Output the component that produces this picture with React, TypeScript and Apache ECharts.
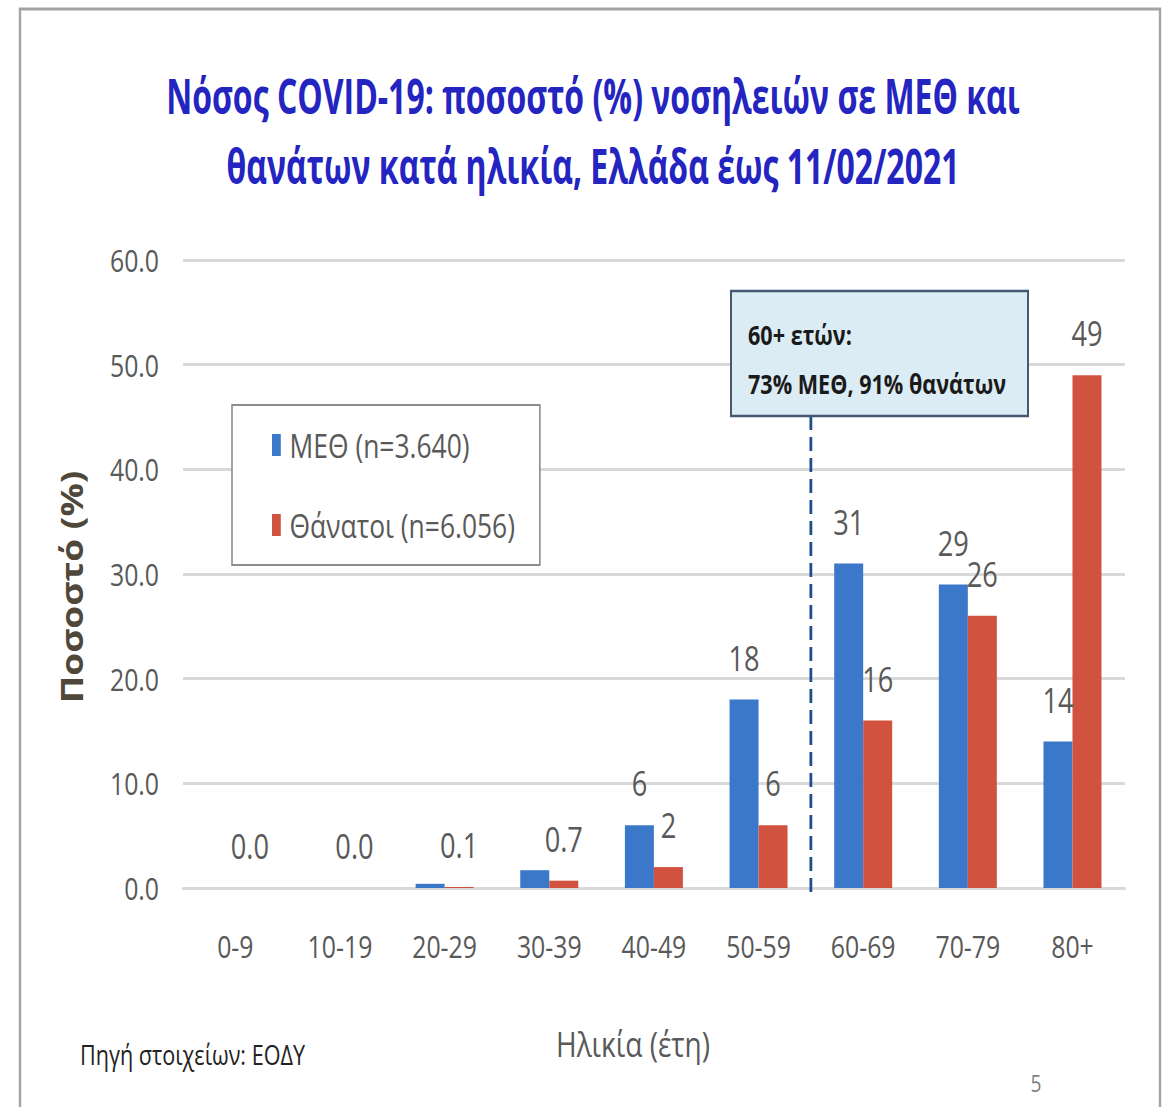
import React, { useEffect, useRef } from "react";
import * as echarts from "echarts";

// Age groups (years)
const categories = ["0-9", "10-19", "20-29", "30-39", "40-49", "50-59", "60-69", "70-79", "80+"];
// Share (%) of ICU admissions by age group
const icuValues = [0.0, 0.0, 0.4, 1.7, 6, 18, 31, 29, 14];
// Which ICU bars carry a value label
const icuLabelShown = [false, false, false, false, true, true, true, true, true];
// Share (%) of deaths by age group
const deathValues = [0.0, 0.0, 0.1, 0.7, 2, 6, 16, 26, 49];
// Y-axis range
const yTicks = [0, 10, 20, 30, 40, 50, 60];

const titleLines = [
  "Νόσος COVID-19: ποσοστό (%) νοσηλειών σε ΜΕΘ και",
  "θανάτων κατά ηλικία, Ελλάδα έως 11/02/2021",
];
const icuName = "ΜΕΘ (n=3.640)";
const deathName = "Θάνατοι (n=6.056)";
const noteLines = ["60+ ετών:", "73% ΜΕΘ, 91% θανάτων"];

// The slide uses a narrow typeface: the chart is laid out wider and squeezed horizontally.
const SX = 0.8;
const PAGE_W = 1173;
const PAGE_H = 1107;
const INNER_W = PAGE_W / SX;
const ux = (x: number) => x / SX;

const FONT = "'Open Sans', 'Noto Sans', sans-serif";
const GREY = "#595959";
const BLUE = "#3b78c9";
const RED = "#d1533f";

const fmt = (v: number) => (v < 1 ? v.toFixed(1) : String(Math.round(v)));

export default function App() {
  const ref = useRef<HTMLDivElement>(null);

  useEffect(() => {
    if (!ref.current) return;
    const chart = echarts.init(ref.current, null, { renderer: "svg" });

    const labelStyle = {
      position: "top",
      distance: 25,
      fontFamily: FONT,
      fontSize: 34,
      color: GREY,
      formatter: (p: any) => fmt(p.value),
    };

    const option: any = {
      animation: false,
      backgroundColor: "#ffffff",
      legend: {
        orient: "vertical",
        left: ux(232),
        top: 405,
        data: [icuName, deathName],
        icon: "rect",
        itemWidth: 11,
        itemHeight: 22,
        itemGap: 46,
        padding: [23, 31, 23, 50],
        backgroundColor: "#ffffff",
        borderColor: "#8c8c8c",
        borderWidth: 2,
        textStyle: {
          fontFamily: FONT,
          fontSize: 33,
          lineHeight: 34,
          color: GREY,
          padding: [0, 0, 0, 6],
        },
      },
      grid: { left: ux(183), right: ux(48), top: 260, bottom: 219 },
      xAxis: {
        type: "category",
        data: categories,
        axisLine: { lineStyle: { color: "#d9d9d9", width: 3 } },
        axisTick: { show: false },
        axisLabel: { fontFamily: FONT, fontSize: 31, color: GREY, margin: 42 },
      },
      yAxis: {
        type: "value",
        min: yTicks[0],
        max: yTicks[yTicks.length - 1],
        interval: 10,
        axisLabel: {
          fontFamily: FONT,
          fontSize: 31,
          color: GREY,
          margin: ux(24),
          formatter: (v: number) => v.toFixed(1),
        },
        splitLine: { lineStyle: { color: "#d9d9d9", width: 3 } },
      },
      series: [
        {
          name: icuName,
          type: "bar",
          barWidth: ux(29),
          barGap: "0%",
          itemStyle: { color: BLUE },
          data: icuValues.map((v, i) => ({
            value: v,
            label: { show: icuLabelShown[i] },
          })),
          label: labelStyle,
        },
        {
          name: deathName,
          type: "bar",
          barWidth: ux(29),
          itemStyle: { color: RED },
          data: deathValues,
          label: { show: true, ...labelStyle },
        },
      ],
    };
    chart.setOption(option);

    // Divider between the under-60 and 60+ groups, with its note box
    const xa = chart.convertToPixel({ xAxisIndex: 0 }, categories[5]) as number;
    const xb = chart.convertToPixel({ xAxisIndex: 0 }, categories[6]) as number;
    const xDiv = (xa + xb) / 2;
    const yBase = chart.convertToPixel({ yAxisIndex: 0 }, 0) as number;
    const boxTop = 291;
    const boxBottom = 416;

    const txt = (text: string, x: number, y: number, extra: any) => ({
      type: "text",
      x,
      y,
      style: { text, fontFamily: FONT, verticalAlign: "middle", ...extra },
    });

    const titleStyle = {
      fontSize: 40,
      fontWeight: "bold",
      fill: "#2424c0",
      align: "center",
    };

    chart.setOption({
      graphic: [
        {
          type: "rect",
          shape: { x: ux(20), y: 9, width: ux(1140), height: 1105 },
          style: { fill: "none", stroke: "#a3a3a3", lineWidth: 3 },
          silent: true,
        },
        { ...txt(titleLines[0], ux(593), 95, titleStyle), scaleY: 1.2 },
        { ...txt(titleLines[1], ux(593), 165, titleStyle), scaleY: 1.2 },
        {
          ...txt("Ποσοστό (%)", ux(72), 587, {
            fontSize: 37,
            fontWeight: "bold",
            fill: "#4f473a",
            align: "center",
          }),
          rotation: Math.PI / 2,
        },
        txt("Ηλικία (έτη)", ux(633), 1043, { fontSize: 35, fill: GREY, align: "center" }),
        {
          type: "line",
          shape: { x1: xDiv, y1: boxBottom, x2: xDiv, y2: yBase + 6 },
          style: { stroke: "#1f4e8c", lineWidth: 3.5, lineDash: [14, 7] },
          z: 10,
        },
        {
          type: "rect",
          shape: { x: ux(731), y: boxTop, width: ux(297), height: boxBottom - boxTop },
          style: { fill: "#dcecf4", stroke: "#455a70", lineWidth: 2.5 },
          z: 11,
        },
        { ...txt(noteLines[0], ux(748), 335, { fontSize: 27, fontWeight: "bold", fill: "#1a1a1a" }), z: 12 },
        { ...txt(noteLines[1], ux(748), 384, { fontSize: 27, fontWeight: "bold", fill: "#1a1a1a" }), z: 12 },
        txt("Πηγή στοιχείων: ΕΟΔΥ", ux(80), 1055, { fontSize: 27, fill: "#222222" }),
        txt("5", ux(1036), 1083, { fontSize: 24, fill: "#7f7f7f", align: "center" }),
      ],
    });

    return () => chart.dispose();
  }, []);

  return (
    <div
      style={{
        position: "fixed",
        left: 0,
        top: 0,
        width: PAGE_W,
        height: PAGE_H,
        overflow: "hidden",
        background: "#fff",
      }}
    >
      <div
        ref={ref}
        style={{
          width: INNER_W,
          height: PAGE_H,
          transform: `scaleX(${SX})`,
          transformOrigin: "0 0",
        }}
      />
    </div>
  );
}
